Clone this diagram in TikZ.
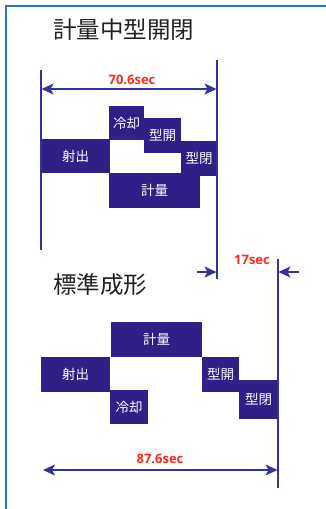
\documentclass[tikz,border=0pt]{standalone}
\usepackage{fontspec}
\newfontfamily\jp{Noto Sans CJK JP}
\newfontfamily\lab{Open Sans}
\usetikzlibrary{arrows.meta}
\definecolor{boxc}{HTML}{2F1F87}
\definecolor{linec}{HTML}{33339A}
\definecolor{framec}{HTML}{2E75B6}
\definecolor{redc}{HTML}{FF2A1A}
\definecolor{titlec}{HTML}{222222}
\tikzset{
  blk/.style={fill=boxc, text=white, inner sep=0pt, outer sep=0pt, anchor=north west,
    font=\jp\fontsize{13.5}{14}\selectfont},
  ttl/.style={anchor=west, text=titlec, inner sep=0pt, font=\jp\fontsize{23.5}{25}\selectfont},
  vline/.style={draw=linec, line width=1.6pt},
  dim/.style={draw=linec, line width=1.6pt, {Stealth[length=12pt,width=11pt,inset=3pt]}-{Stealth[length=12pt,width=11pt,inset=3pt]}},
  dimr/.style={draw=linec, line width=1.6pt, -{Stealth[length=12pt,width=11pt,inset=3pt]}},
  lbl/.style={text=redc, inner sep=0pt, font=\lab\bfseries\fontsize{13}{14}\selectfont},
  frm/.style={draw=framec, line width=2pt}
}
\begin{document}
\begin{tikzpicture}[x=1pt,y=-1pt]
\useasboundingbox (0,0) rectangle (326,509);
% frame
\coordinate (f1) at (6,515);
\coordinate (f2) at (6,5.5);
\coordinate (f3) at (330,5.5);
\draw[frm] (f1) -- (f2) -- (f3);

% titles
\node[ttl] (t1) at (53,30) {計量中型開閉};
\node[ttl] (t2) at (53,285) {標準成形};

% top diagram boxes
\node[blk, minimum width=69pt, minimum height=34pt] (inj1) at (41,139) {射出};
\node[blk, minimum width=35pt, minimum height=34pt] (cool1) at (109,106) {冷却};
\node[blk, minimum width=37pt, minimum height=35pt] (open1) at (144,118) {型開};
\node[blk, minimum width=36pt, minimum height=35pt] (close1) at (181,141) {型閉};
\node[blk, minimum width=91pt, minimum height=35pt] (meas1) at (109,173) {計量};

% bottom diagram boxes
\node[blk, minimum width=91pt, minimum height=35pt] (meas2) at (111,322) {計量};
\node[blk, minimum width=69pt, minimum height=35pt] (inj2) at (41,357) {射出};
\node[blk, minimum width=38pt, minimum height=34pt] (cool2) at (110,390) {冷却};
\node[blk, minimum width=37pt, minimum height=35pt] (open2) at (202,357) {型開};
\node[blk, minimum width=39pt, minimum height=39pt] (close2) at (239,380) {型閉};

% vertical lines
\coordinate (va1) at (41,70);
\coordinate (va2) at (41,250);
\coordinate (vb1) at (217,60);
\coordinate (vb2) at (217,279);
\coordinate (vc1) at (278,259);
\coordinate (vc2) at (278,488);
\draw[vline] (va1) -- (va2);
\draw[vline] (vb1) -- (vb2);
\draw[vline] (vc1) -- (vc2);

% dimension 70.6
\coordinate (d1a) at (41.5,89);
\coordinate (d1b) at (216.5,89);
\draw[dim] (d1a) -- (d1b);
\node[lbl] (l1) at (132,80) {70.6sec};

% dimension 17
\coordinate (d2a) at (197,272);
\coordinate (d2b) at (216.5,272);
\coordinate (d2c) at (299,272);
\coordinate (d2d) at (278.5,272);
\draw[dimr] (d2a) -- (d2b);
\draw[dimr] (d2c) -- (d2d);
\node[lbl] (l2) at (252,260) {17sec};

% dimension 87.6
\coordinate (d3a) at (43,470);
\coordinate (d3b) at (277.5,470);
\draw[dim] (d3a) -- (d3b);
\node[lbl] (l3) at (160,459) {87.6sec};
\end{tikzpicture}
\end{document}
